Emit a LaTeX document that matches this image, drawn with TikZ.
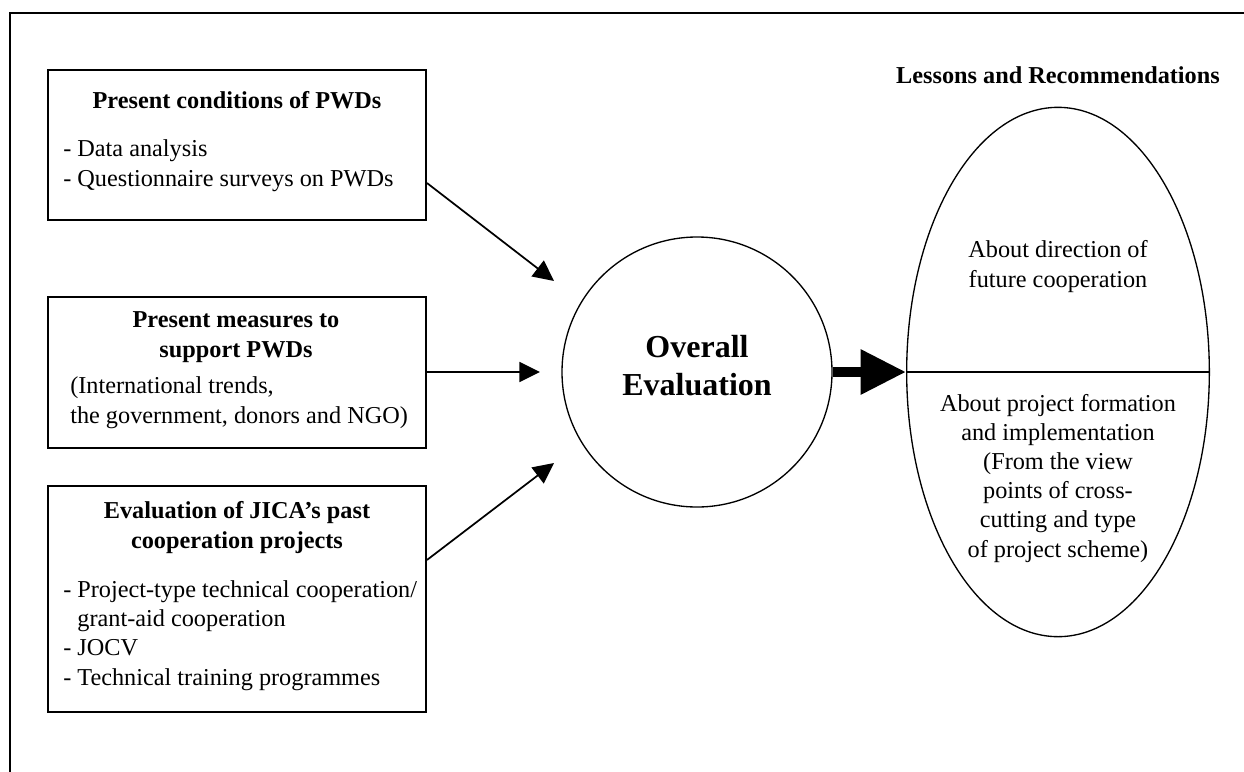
\documentclass[tikz,border=0pt]{standalone}
\usepackage{fontspec}
\setmainfont{Liberation Serif}
\usetikzlibrary{arrows.meta,shapes.geometric}
\begin{document}
\begin{tikzpicture}[x=0.75pt,y=-0.75pt,
  box/.style={draw,line width=1.4pt,rectangle,inner sep=0pt,minimum width=283.5pt},
  txt/.style={inner sep=0pt,font=\fontsize{18.2}{21.8}\selectfont},
  ttl/.style={txt,font=\fontsize{18.2}{21.8}\selectfont\bfseries},
  thin/.style={line width=1.3pt,-{Triangle[length=15.5pt,width=15pt]}},
  thick/.style={line width=7.5pt,-{Triangle[length=34pt,width=32pt]}}]
\useasboundingbox (0,0) rectangle (1244,771);
% outer frame
\draw[line width=1.6pt] (10,800) -- (10,13) -- (1270,13);
% boxes
\node[box,minimum height=112.5pt] (b1) at (237,145) {};
\node[box,minimum height=113pt] (b2) at (237,372.5) {};
\node[box,minimum height=169.5pt] (b3) at (237,599) {};
% box texts (multi-line nodes anchored at the baseline of their last line)
\node[ttl,anchor=base] (t1) at (237,108) {Present conditions of PWDs};
\node[txt,anchor=base west,align=left] (l1) at (63,186) {- Data analysis\\- Questionnaire surveys on PWDs};
\node[ttl,anchor=base,align=center] (t2) at (236,357) {Present measures to\\support PWDs};
\node[txt,anchor=base west,align=left] (l2) at (70,423) {(International trends,\\the government, donors and NGO)};
\node[ttl,anchor=base,align=center] (t3) at (237,548) {Evaluation of JICA’s past\\cooperation projects};
\node[txt,anchor=base west,align=left] (l3) at (63,685) {- Project-type technical cooperation/\\\phantom{- }grant-aid cooperation\\- JOCV\\- Technical training programmes};
% circle
\node[draw,circle,line width=1pt,minimum size=202.5pt,inner sep=0pt] (ov) at (697,372) {};
\node[txt,anchor=base,align=center,font=\fontsize{24}{28.5}\selectfont\bfseries] (ovt) at (697,395) {Overall\\Evaluation};
% ellipse
\node[draw,ellipse,line width=1pt,minimum width=227pt,minimum height=397pt,inner sep=0pt] (el) at (1058,372) {};
\draw[line width=1pt] (el.west) -- (el.east);
\node[ttl,anchor=base] (lr) at (1058,83) {Lessons and Recommendations};
\node[txt,anchor=base,align=center] (e1) at (1058,287) {About direction of\\future cooperation};
\node[txt,anchor=base,align=center] (e2) at (1058,557) {About project formation\\and implementation\\(From the view\\points of cross-\\cutting and type\\of project scheme)};
% arrows
\coordinate (a1) at (554,281);
\coordinate (a2) at (540,372);
\coordinate (a3) at (554,463);
\draw[thin] (b1.east |- 0,183) -- (a1);
\draw[thin] (b2.east |- 0,372) -- (a2);
\draw[thin] (b3.east |- 0,560) -- (a3);
\draw[thick] (ov.east) -- (el.west);
\end{tikzpicture}
\end{document}
